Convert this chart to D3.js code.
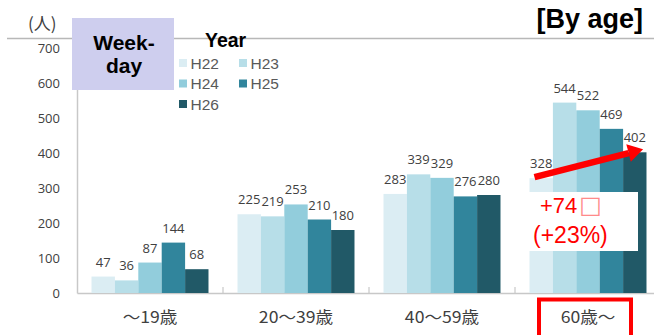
<!DOCTYPE html>
<html>
<head>
<meta charset="utf-8">
<script src="https://cdn.jsdelivr.net/npm/d3@7"></script>
<style>
  html, body { margin: 0; padding: 0; background: #fff; }
  svg { display: block; font-family: "Liberation Sans", Arial, sans-serif; }
</style>
</head>
<body>
<svg id="chart" width="654" height="335"></svg>
<script>
// Age groups and yearly visitor counts (weekday)
const categories = ["～19歳", "20～39歳", "40～59歳", "60歳～"];
const years = ["H22", "H23", "H24", "H25", "H26"];
const H22 = [47, 225, 283, 328];
const H23 = [36, 219, 339, 544];
const H24 = [87, 253, 329, 522];
const H25 = [144, 210, 276, 469];
const H26 = [68, 180, 280, 402];
const yTicks = [0, 100, 200, 300, 400, 500, 600, 700];
const colors = ["#dbedf3", "#b7dee8", "#92cddc", "#31859c", "#215967"];

const series = [H22, H23, H24, H25, H26];
const svg = d3.select("#chart");

const x0 = d3.scaleBand().domain(categories).range([77, 661]).padding(0);
const x1 = d3.scaleBand().domain(years).range([0, x0.bandwidth()]).paddingOuter(0.62).paddingInner(0);
const y = d3.scaleLinear().domain([0, 700]).range([293, 48]);

// top rule
svg.append("line").attr("x1", 7).attr("x2", 654).attr("y1", 38.5).attr("y2", 38.5)
  .attr("stroke", "#b8b8b8").attr("stroke-width", 1.5);

// y axis
const yAxis = d3.axisLeft(y).tickValues(yTicks).tickSize(0).tickPadding(17);
const gy = svg.append("g").attr("transform", "translate(77,0)").call(yAxis);
gy.select(".domain").attr("stroke", "#c8c8c8").attr("stroke-width", 1.5);
gy.selectAll("text").attr("font-size", 13).attr("fill", "#404040")
  .attr("font-family", "'Open Sans', 'Liberation Sans', sans-serif");

// x axis baseline with boundary marks
const xAxis = d3.axisBottom(x0).tickSize(0).tickPadding(0);
const gx = svg.append("g").attr("transform", "translate(0,293)").call(xAxis);
gx.select(".domain").attr("stroke", "#c8c8c8").attr("stroke-width", 1.5);
gx.selectAll("text")
  .attr("dy", null).attr("y", 30)
  .attr("font-size", 16).attr("fill", "#404040")
  .attr("font-family", "'Noto Sans CJK JP', sans-serif")
  .each(function () {
    // slightly widened category labels
    const w = this.getComputedTextLength();
    d3.select(this).attr("textLength", w * 1.1).attr("lengthAdjust", "spacingAndGlyphs");
  });
svg.append("g").selectAll("line")
  .data(categories.slice(1))
  .join("line")
  .attr("x1", d => x0(d)).attr("x2", d => x0(d))
  .attr("y1", 287).attr("y2", 293)
  .attr("stroke", "#c8c8c8").attr("stroke-width", 1.2);

// bars
const rows = [];
categories.forEach((c, i) => years.forEach((yr, j) => rows.push({ c, yr, j, v: series[j][i] })));

svg.append("g").selectAll("rect")
  .data(rows)
  .join("rect")
  .attr("x", d => x0(d.c) + x1(d.yr))
  .attr("y", d => y(d.v))
  .attr("width", x1.bandwidth())
  .attr("height", d => y(0) - y(d.v))
  .attr("fill", d => colors[d.j]);

// value labels
svg.append("g").selectAll("text")
  .data(rows)
  .join("text")
  .attr("x", d => x0(d.c) + x1(d.yr) + x1.bandwidth() / 2)
  .attr("y", d => y(d.v) - 10)
  .attr("text-anchor", "middle")
  .attr("font-size", 13)
  .attr("fill", "#404040")
  .attr("font-family", "'Open Sans', 'Liberation Sans', sans-serif")
  .text(d => d.v);

// unit label and title
svg.append("text").attr("x", 28).attr("y", 30).attr("font-size", 17).attr("fill", "#404040")
  .attr("font-family", "'Noto Sans CJK JP', sans-serif").text("(人)");
svg.append("text").attr("x", 643).attr("y", 27.5).attr("text-anchor", "end")
  .attr("font-size", 27).attr("font-weight", "bold").attr("fill", "#000").text("[By age]");

// weekday box
svg.append("rect").attr("x", 72).attr("y", 18).attr("width", 102).attr("height", 72).attr("fill", "#ceceee");
svg.append("text").attr("x", 124).attr("y", 50).attr("text-anchor", "middle")
  .attr("font-size", 21).attr("font-weight", "bold").text("Week-");
svg.append("text").attr("x", 124).attr("y", 73).attr("text-anchor", "middle")
  .attr("font-size", 21).attr("font-weight", "bold").text("day");

// legend
svg.append("text").attr("x", 205).attr("y", 47).attr("font-size", 19.5).attr("font-weight", "bold").text("Year");
const legend = svg.append("g").selectAll("g")
  .data(years)
  .join("g")
  .attr("transform", (d, i) => `translate(${179 + (i % 2) * 60},${63 + Math.floor(i / 2) * 20.5})`);
legend.append("rect").attr("x", 0).attr("y", -4).attr("width", 8).attr("height", 8)
  .attr("fill", (d, i) => colors[i]);
legend.append("text").attr("x", 11.5).attr("y", 5.5).attr("font-size", 15.5).attr("fill", "#595959")
  .text(d => d);

// highlight on the 60+ group
svg.append("rect").attr("x", 539).attr("y", 299.5).attr("width", 92).attr("height", 40)
  .attr("fill", "none").attr("stroke", "#ff0000").attr("stroke-width", 4);

// change annotation box
svg.append("rect").attr("x", 528).attr("y", 192).attr("width", 110).attr("height", 59).attr("fill", "#fff");
const diff = svg.append("text").attr("x", 540).attr("y", 213).attr("font-size", 22).attr("fill", "#ff0000");
diff.append("tspan").text("+" + (H26[3] - H22[3]));
diff.append("tspan").attr("dx", 2).attr("font-size", 24).attr("fill", "#ff8a8a")
  .attr("font-family", "'DejaVu Sans', sans-serif").text("□");
svg.append("text").attr("x", 533).attr("y", 243).attr("font-size", 23).attr("fill", "#ff0000")
  .text("(+" + Math.round((H26[3] - H22[3]) / H22[3] * 100) + "%)");

// arrow from H22 to H26 in the 60+ group
const c60 = categories[3];
const ax1 = x0(c60) + x1("H22") + 5, ay1 = y(H22[3]) - 1;
const ax2 = x0(c60) + x1("H26") + 20, ay2 = y(H26[3]) - 3;
const ang = Math.atan2(ay2 - ay1, ax2 - ax1);
const headLen = 15, headW = 9;
const bx = ax2 - headLen * Math.cos(ang), by = ay2 - headLen * Math.sin(ang);
svg.append("line").attr("x1", ax1).attr("y1", ay1).attr("x2", bx).attr("y2", by)
  .attr("stroke", "#ff0000").attr("stroke-width", 6.5);
svg.append("path")
  .attr("d", `M${ax2},${ay2}L${bx - headW * Math.sin(ang)},${by + headW * Math.cos(ang)}L${bx + headW * Math.sin(ang)},${by - headW * Math.cos(ang)}Z`)
  .attr("fill", "#ff0000");
</script>
</body>
</html>
